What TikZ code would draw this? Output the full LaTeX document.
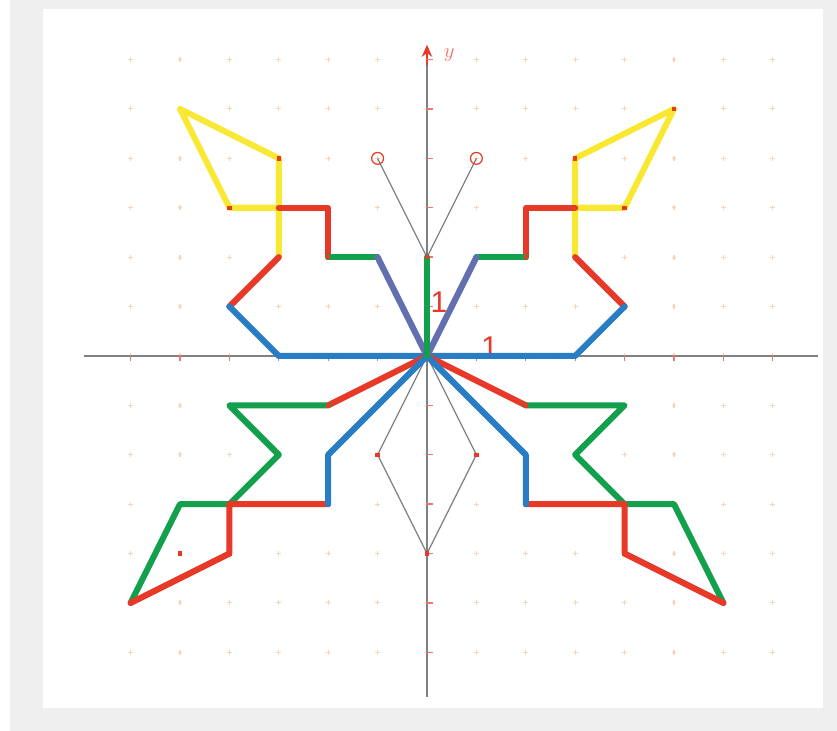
\documentclass[tikz,border=0pt]{standalone}
\usepackage{fontspec}
\newfontfamily\etiqueta{Liberation Sans}
\usetikzlibrary{arrows.meta}
\definecolor{fondo}{RGB}{239,239,239}
\definecolor{amarillo}{RGB}{248,232,52}
\definecolor{rojo}{RGB}{232,56,40}
\definecolor{verde}{RGB}{18,160,76}
\definecolor{azul}{RGB}{40,125,196}
\definecolor{pizarra}{RGB}{98,112,176}
\definecolor{rejilla}{RGB}{250,212,180}
\begin{document}
\begin{tikzpicture}[x=1cm,y=1cm,
    trazo/.style={line width=3.5pt, line cap=round, line join=round},
    fino/.style={gray, line width=0.7pt},
    eje/.style={gray, line width=1.1pt}]
                \useasboundingbox (-8.644,-7.591) rectangle (8.300,7.206);
                \fill[fondo] (-8.441,-7.591) rectangle (8.300,7.206);
                \fill[white] (-7.773,-7.126) rectangle (8.016,7.024);

                % Rejilla
                \foreach \x in {-6,...,7}
                    \foreach \y in {-6,...,6}
                        \draw[rejilla, line width=0.6pt] (\x-0.05,\y) -- (\x+0.05,\y) (\x,\y-0.05) -- (\x,\y+0.05);

                % Ejes
                \draw[eje] (-6.943,0) -- (7.915,0);
                \draw[eje] (0,-6.903) -- (0,6.1);
                \draw[-{Stealth[rojo,length=7pt,width=6pt]}, rojo, line width=1pt] (0,5.9) -- (0,6.3);
                \foreach \x in {-6,...,7}
                    \draw[rojo!70, line width=0.8pt] (\x,-0.1) -- (\x,0.02);
                \foreach \y in {-6,...,6}
                    \draw[rojo!70, line width=0.8pt] (-0.02,\y) -- (0.12,\y);
                \node[text=rojo!70, font=\large] (ejey) at (0.45,6.1) {$y$};
                \node[text=rojo, font=\etiqueta\LARGE] (unoy) at (0.24,1.09) {1};
                \node[text=rojo, font=\etiqueta\LARGE] (unox) at (1.27,0.17) {1};

                % Antenas y rombo
                \draw[fino] (-1,4) -- (0,2) -- (1,4);
                \draw[fino] (0,0) -- (-1,-2) -- (0,-4) -- (1,-2) -- cycle;
                \draw[rojo, line width=0.7pt] (-1,4) circle (0.12);
                \draw[rojo, line width=0.7pt] (1,4) circle (0.12);

                % Alas (izquierda y su reflejo)
                \foreach \s in {-1,1} {
                    \begin{scope}[xscale=\s]
                        \draw[trazo, amarillo] (-3,2) -- (-3,4) -- (-5,5) -- (-4,3) -- (-3,3);
                        \draw[trazo, rojo] (-3,3) -- (-2,3) -- (-2,2);
                        \draw[trazo, verde] (-2,2) -- (-1,2);
                        \draw[trazo, rojo] (-3,2) -- (-4,1);
                        \draw[trazo, azul] (-4,1) -- (-3,0) -- (0,0);
                        \draw[trazo, pizarra] (-1,2) -- (0,0);
                        \draw[trazo, rojo] (0,0) -- (-2,-1);
                        \draw[trazo, verde] (-2,-1) -- (-4,-1) -- (-3,-2) -- (-4,-3) -- (-5,-3) -- (-6,-5);
                        \draw[trazo, rojo] (-6,-5) -- (-4,-4) -- (-4,-3) -- (-2,-3);
                        \draw[trazo, azul] (-2,-3) -- (-2,-2) -- (0,0);
                    \end{scope}
                }
                \draw[trazo, verde] (0,2) -- (0,0);

                % Puntos
                \foreach \p in {(0,2),(0,-4),(-1,-2),(1,-2),(-5,-4),(-6,-5),(6,-5),(-4,-4),(4,-4),
                                (-2,-1),(2,-1),(-3,4),(3,4),(-4,3),(4,3),(5,5),(-3,3),(3,3),(2,2),(-2,2)}
                    \fill[rojo] \p +(-0.045,-0.045) rectangle +(0.045,0.045);
            \end{tikzpicture}
\end{document}
